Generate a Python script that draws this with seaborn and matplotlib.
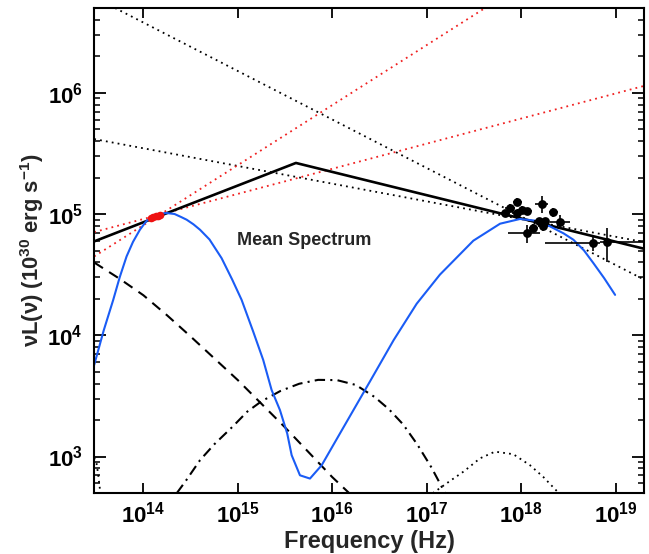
import numpy as np
import pandas as pd
import matplotlib
matplotlib.use("Agg")
import matplotlib.pyplot as plt
import seaborn as sns
from matplotlib.ticker import LogLocator, FuncFormatter, NullFormatter

# ---------------- data (log10 values) ----------------
# broken power law (black solid)
bpl_logx = [13.479, 15.615, 19.304]
bpl_logy = [4.774, 5.421, 4.713]

# red dotted power laws
red1_logx = [13.479, 17.618]
red1_logy = [4.650, 6.699]
red2_logx = [13.479, 19.304]
red2_logy = [4.851, 6.057]

# black dotted power laws
dot1_logx = [13.700, 19.304]
dot1_logy = [6.699, 4.458]
dot2_logx = [13.479, 19.304]
dot2_logy = [5.618, 4.768]

# dashed component
dash_logx = [13.479, 13.75, 14.0, 14.25, 14.5, 14.75, 15.0, 15.25, 15.5, 15.75, 16.0, 16.19]
dash_logy = [4.600, 4.465, 4.330, 4.165, 3.990, 3.810, 3.630, 3.435, 3.240, 3.035, 2.830, 2.690]

# dash-dot component
dd_logx = [14.353, 14.45, 14.60, 14.75, 14.95, 15.10, 15.25, 15.45, 15.65, 15.85,
           16.05, 16.25, 16.45, 16.60, 16.75, 16.90, 17.05, 17.194]
dd_logy = [2.697, 2.800, 2.970, 3.100, 3.250, 3.370, 3.455, 3.540, 3.600, 3.632,
           3.630, 3.590, 3.490, 3.390, 3.265, 3.100, 2.910, 2.699]

# dotted bump (bottom right) and dotted tail (bottom left)
bump_logx = [17.064, 17.25, 17.393, 17.565, 17.723, 17.917, 18.094, 18.235, 18.377, 18.407]
bump_logy = [2.697, 2.800, 2.877, 2.985, 3.040, 3.019, 2.928, 2.831, 2.716, 2.697]
tail_logx = [13.479, 13.504, 13.520, 13.539, 13.545]
tail_logy = [2.990, 2.942, 2.860, 2.736, 2.697]

# blue total model
blue_logx = [13.479, 13.58, 13.68, 13.75, 13.822, 13.89, 13.963, 14.03, 14.10, 14.17,
             14.246, 14.33, 14.40, 14.458, 14.53, 14.60, 14.70, 14.828, 14.94, 15.04,
             15.163, 15.269, 15.358, 15.446, 15.523, 15.57, 15.658, 15.764, 15.888,
             16.10, 16.40, 16.65, 16.894, 17.14, 17.494, 17.777, 17.988, 18.15, 18.306,
             18.45, 18.553, 18.665, 18.765, 18.88, 18.995]
blue_logy = [3.755, 4.040, 4.290, 4.480, 4.650, 4.770, 4.870, 4.940, 4.980, 5.000,
             5.008, 5.000, 4.975, 4.953, 4.915, 4.870, 4.790, 4.636, 4.460, 4.292,
             4.030, 3.796, 3.548, 3.383, 3.190, 3.011, 2.845, 2.818, 2.928,
             3.215, 3.620, 3.960, 4.260, 4.500, 4.780, 4.920, 4.959, 4.945, 4.898,
             4.840, 4.788, 4.700, 4.595, 4.470, 4.333]

# red IR points
ir_logx = [14.08, 14.105, 14.13, 14.155, 14.175]
ir_logy = [4.965, 4.972, 4.980, 4.986, 4.990]

# X-ray points with error bars
xr_logx = [17.829, 17.882, 17.960, 18.006, 17.953, 18.066, 18.218, 18.338,
           18.412, 18.059, 18.129, 18.190, 18.253, 18.235, 18.765, 18.907]
xr_logy = [5.008, 5.052, 5.100, 5.036, 5.008, 5.021, 5.079, 5.013,
           4.931, 4.845, 4.887, 4.939, 4.939, 4.898, 4.760, 4.765]
xr_xlo = [17.76, 17.83, 17.91, 17.96, 17.90, 18.02, 18.147, 18.29,
          18.306, 17.864, 18.08, 18.14, 18.20, 18.18, 18.253, 18.836]
xr_xhi = [17.88, 17.93, 18.01, 18.06, 18.00, 18.11, 18.288, 18.39,
          18.518, 18.200, 18.18, 18.24, 18.30, 18.28, 18.836, 19.290]
xr_ylo = [4.980, 5.020, 5.063, 5.000, 4.980, 4.990, 5.008, 4.975,
          4.884, 4.760, 4.850, 4.900, 4.900, 4.860, 4.691, 4.608]
xr_yhi = [5.035, 5.080, 5.132, 5.070, 5.035, 5.050, 5.145, 5.050,
          4.994, 4.912, 4.920, 4.970, 4.970, 4.930, 4.815, 4.884]

x_limits = (3.0e13, 2.0e19)
y_limits = (5.0e2, 5.0e6)
title_text = "Mean Spectrum"
x_label = "Frequency (Hz)"
y_label = "\u03bdL(\u03bd) (10$^{30}$ erg s$^{-1}$)"

# ---------------- style ----------------
sns.set_style("ticks")
plt.rcParams["font.family"] = ["Liberation Sans", "DejaVu Sans"]
plt.rcParams["font.weight"] = "bold"
plt.rcParams["mathtext.fontset"] = "custom"
plt.rcParams["mathtext.rm"] = "Liberation Sans:bold"
plt.rcParams["mathtext.bf"] = "Liberation Sans:bold"
plt.rcParams["mathtext.it"] = "Liberation Sans:bold"
plt.rcParams["mathtext.default"] = "rm"

W, H = 649, 554
fig = plt.figure(figsize=(W / 100, H / 100), dpi=100)
ax = fig.add_axes([94 / W, 1 - 493 / H, (644 - 94) / W, (493 - 8) / H])
ax.set_xscale("log")
ax.set_yscale("log")


def tolin(v):
    return np.power(10.0, np.asarray(v, dtype=float))


def line(lx, ly, **kw):
    df = pd.DataFrame({"x": tolin(lx), "y": tolin(ly)})
    sns.lineplot(data=df, x="x", y="y", ax=ax, sort=False, estimator=None, **kw)


dotted = (0, (1.0, 2.3))
line(dot1_logx, dot1_logy, color="black", lw=1.3, linestyle=dotted)
line(dot2_logx, dot2_logy, color="black", lw=1.3, linestyle=dotted)
line(red1_logx, red1_logy, color="#f02020", lw=1.3, linestyle=dotted)
line(red2_logx, red2_logy, color="#f02020", lw=1.3, linestyle=dotted)
line(bump_logx, bump_logy, color="black", lw=1.3, linestyle=dotted)
line(tail_logx, tail_logy, color="black", lw=1.3, linestyle=dotted)
line(dash_logx, dash_logy, color="black", lw=1.5, linestyle=(0, (5, 3.5)))
line(dd_logx, dd_logy, color="black", lw=1.5, linestyle=(0, (5, 2.5, 1, 2.5)))
line(bpl_logx, bpl_logy, color="black", lw=1.9)
line(blue_logx, blue_logy, color="#1a5cf5", lw=1.5)

# X-ray data
xv = tolin(xr_logx)
yv = tolin(xr_logy)
xerr = np.vstack([xv - tolin(xr_xlo), tolin(xr_xhi) - xv])
yerr = np.vstack([yv - tolin(xr_ylo), tolin(xr_yhi) - yv])
ax.errorbar(xv, yv, xerr=xerr, yerr=yerr, fmt="none", ecolor="black", elinewidth=1.2, capsize=0, zorder=4)
sns.scatterplot(x=xv, y=yv, ax=ax, color="black", s=40, edgecolor="black", linewidth=0, zorder=5)

# IR points
sns.scatterplot(x=tolin(ir_logx), y=tolin(ir_logy), ax=ax, color="#ee1111", s=30,
                edgecolor="#ee1111", linewidth=0, zorder=5)

ax.set_xlim(*x_limits)
ax.set_ylim(*y_limits)

# ticks
ax.xaxis.set_major_locator(LogLocator(base=10, numticks=20))
ax.xaxis.set_minor_locator(LogLocator(base=10, subs=[], numticks=20))
ax.yaxis.set_major_locator(LogLocator(base=10, numticks=20))
ax.yaxis.set_minor_locator(LogLocator(base=10, subs=np.arange(2, 10), numticks=20))
fmt = FuncFormatter(lambda v, p: "10$^{%d}$" % int(round(np.log10(v))))
ax.xaxis.set_major_formatter(fmt)
ax.yaxis.set_major_formatter(fmt)
ax.yaxis.set_minor_formatter(NullFormatter())
ax.tick_params(axis="both", which="both", direction="in", top=True, right=True,
               colors="black", labelsize=16)
ax.tick_params(axis="x", which="major", length=7, width=1.3, pad=6)
ax.tick_params(axis="y", which="major", length=8.5, width=1.3, pad=8)
ax.tick_params(axis="y", which="minor", length=4.5, width=1.1)
for sp in ax.spines.values():
    sp.set_linewidth(1.5)
    sp.set_color("black")

ax.set_xlabel(x_label, fontsize=17, fontweight="bold", labelpad=2)
ax.set_ylabel(y_label, fontsize=15.8, fontweight="bold", labelpad=1)
ax.text((237 - 94) / 550, (493 - 245) / 485, title_text, transform=ax.transAxes,
        fontsize=13, fontweight="bold", ha="left", va="baseline")

fig.savefig("out.png", dpi=100)
